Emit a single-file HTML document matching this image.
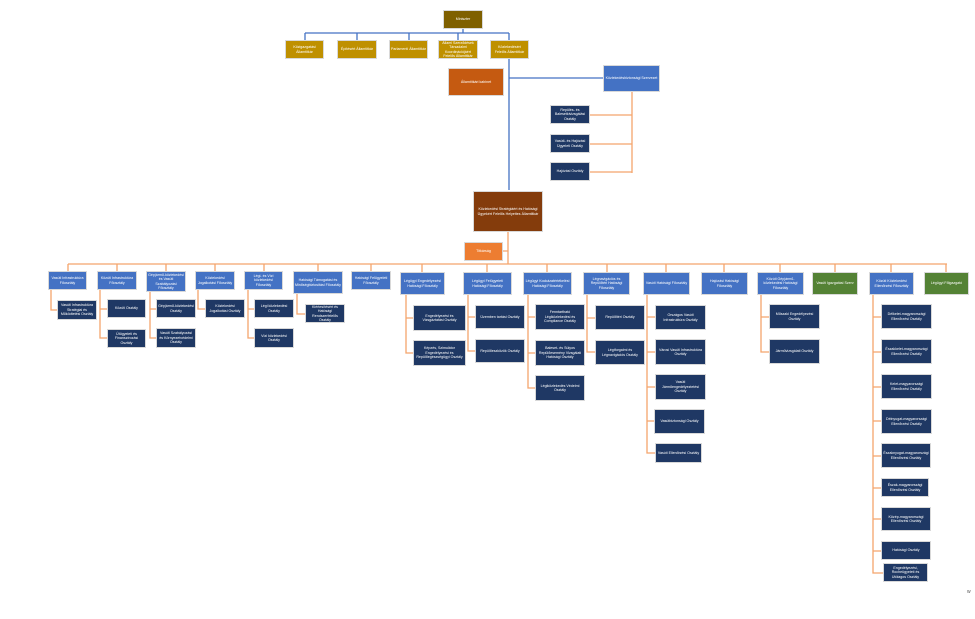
<!DOCTYPE html>
<html><head><meta charset="utf-8"><style>
body{margin:0;background:#fff;width:975px;height:619px;overflow:hidden;position:relative;font-family:"Liberation Sans",sans-serif}
.b{position:absolute;display:flex;align-items:center;justify-content:center;text-align:center;color:#fff;font-size:3.6px;line-height:4.4px;box-sizing:border-box;border:0.6px solid #d9d9d9;padding:0 1px;overflow:hidden}
.g{background:#bf9000}.d{background:#1f3864}.bl{background:#4472c4}.gr{background:#548235}
svg{position:absolute;left:0;top:0}
</style></head><body>
<svg width="975" height="619">
<g stroke="#4472c4" stroke-width="1.3" fill="none">
<path d="M463 29V33M305 33H509M305 33V40M357 33V40M409 33V40M458 33V40M509 33V190M509 78H603"/>
</g>
<g stroke="#f4a56c" stroke-width="1.3" fill="none">
<path d="M632 92V173M590 115H632M590 144H632M590 172H632"/>
<path d="M508 232V264M503 251H508M68 264H947"/>
<path d="M68 264V271M117 264V271M166 264V271M215 264V271M264 264V271M318 264V271M371 264V271M422 264V272M487 264V272M547 264V272M607 264V272M666 264V272M724 264V272M780 264V272M835 264V272M891 264V272M946 264V272"/>
<path d="M51 290V310H57M100 290V338H107M100 309H107M150 292V338H156M150 309H156M198 290V309H205M248 290V338H254M248 309H254M297 294V314H305"/>
<path d="M406 295V353H413M406 318H413M468 295V351H475M468 317H475M528 295V388H535M528 317H535M528 353H535M587 295V352H595M587 318H595M647 295V453H655M647 317H655M647 352H655M647 387H655M647 421H654M761 295V352H769M761 317H769M873 295V573H881M873 317H881M873 352H881M873 387H881M873 421H881M873 456H881M873 488H881M873 519H881M873 551H881M873 573H883"/>
</g>
</svg>
<div class="b" style="left:443px;top:10px;width:40px;height:19px;background:#7f6000">Miniszter</div>
<div class="b g" style="left:285px;top:40px;width:39px;height:19px">Közigazgatási Államtitkár</div>
<div class="b g" style="left:337px;top:40px;width:40px;height:19px">Építésért Államtitkár</div>
<div class="b g" style="left:389px;top:40px;width:39px;height:19px">Parlamenti Államtitkár</div>
<div class="b g" style="left:438px;top:40px;width:40px;height:19px">Állami Szerződések Társadalmi Koordinációjáért Felelős Államtitkár</div>
<div class="b g" style="left:490px;top:40px;width:39px;height:19px">Közlekedésért Felelős Államtitkár</div>
<div class="b" style="left:448px;top:68px;width:56px;height:28px;background:#c55a11">Államtitkári kabinet</div>
<div class="b bl" style="left:603px;top:65px;width:57px;height:27px">Közlekedésbiztonsági Szervezet</div>
<div class="b d" style="left:550px;top:105px;width:40px;height:19px">Repülés- és Balesetkivizsgálási Osztály</div>
<div class="b d" style="left:550px;top:134px;width:40px;height:19px">Vasúti- és Hajózási Ügyeleti Osztály</div>
<div class="b d" style="left:550px;top:162px;width:40px;height:19px">Hajózási Osztály</div>
<div class="b" style="left:473px;top:191px;width:70px;height:41px;background:#843c0c">Közlekedési Stratégiáért és Hatósági Ügyekért Felelős Helyettes Államtitkár</div>
<div class="b" style="left:464px;top:242px;width:39px;height:19px;background:#ed7d31">Titkárság</div>

<div class="b bl" style="left:48px;top:271px;width:39px;height:19px">Vasúti Infrastruktúra Főosztály</div>
<div class="b bl" style="left:97px;top:271px;width:40px;height:19px">Közúti Infrastruktúra Főosztály</div>
<div class="b bl" style="left:146px;top:271px;width:40px;height:21px">Gépjármű-közlekedési és Vasúti Szabályozási Főosztály</div>
<div class="b bl" style="left:195px;top:271px;width:40px;height:19px">Közlekedési Jogalkotási Főosztály</div>
<div class="b bl" style="left:244px;top:271px;width:39px;height:19px">Légi- és Vízi közlekedési Főosztály</div>
<div class="b bl" style="left:293px;top:271px;width:50px;height:23px">Hatósági Támogatási és Minőségbiztosítási Főosztály</div>
<div class="b bl" style="left:351px;top:271px;width:40px;height:19px">Hatósági Felügyeleti Főosztály</div>
<div class="b bl" style="left:400px;top:272px;width:45px;height:23px">Légügyi Engedélyezési Hatósági Főosztály</div>
<div class="b bl" style="left:463px;top:272px;width:49px;height:23px">Légügyi Felügyeleti Hatósági Főosztály</div>
<div class="b bl" style="left:523px;top:272px;width:49px;height:23px">Légügyi Kockázatértékelési Hatósági Főosztály</div>
<div class="b bl" style="left:583px;top:272px;width:47px;height:23px">Légnavigációs és Repülőtéri Hatósági Főosztály</div>
<div class="b bl" style="left:643px;top:272px;width:47px;height:23px">Vasúti Hatósági Főosztály</div>
<div class="b bl" style="left:701px;top:272px;width:47px;height:23px">Hajózási Hatósági Főosztály</div>
<div class="b bl" style="left:757px;top:272px;width:47px;height:23px">Közúti Gépjármű-közlekedési Hatósági Főosztály</div>
<div class="b gr" style="left:812px;top:272px;width:46px;height:23px">Vasúti Igazgatási Szerv</div>
<div class="b bl" style="left:869px;top:272px;width:45px;height:23px">Közúti Közlekedési Ellenőrzési Főosztály</div>
<div class="b gr" style="left:924px;top:272px;width:45px;height:23px">Légügyi Főigazgató</div>

<div class="b d" style="left:57px;top:300px;width:40px;height:20px">Vasúti Infrastruktúra Stratégiai és Működtetési Osztály</div>
<div class="b d" style="left:107px;top:299px;width:39px;height:19px">Közúti Osztály</div>
<div class="b d" style="left:107px;top:329px;width:39px;height:19px">Útügyeleti és Finanszírozási Osztály</div>
<div class="b d" style="left:156px;top:299px;width:40px;height:19px">Gépjármű-közlekedési Osztály</div>
<div class="b d" style="left:156px;top:328px;width:40px;height:20px">Vasúti Szabályozási és Környezetvédelmi Osztály</div>
<div class="b d" style="left:205px;top:299px;width:40px;height:19px">Közlekedési Jogalkotási Osztály</div>
<div class="b d" style="left:254px;top:299px;width:40px;height:19px">Légi közlekedési Osztály</div>
<div class="b d" style="left:254px;top:328px;width:40px;height:20px">Vízi közlekedési Osztály</div>
<div class="b d" style="left:305px;top:304px;width:40px;height:19px">Kiértesítésért és Hatósági Rendszerfelelős Osztály</div>

<div class="b d" style="left:413px;top:305px;width:53px;height:26px">Engedélyezési és Vizsgáztatási Osztály</div>
<div class="b d" style="left:413px;top:340px;width:53px;height:26px">Képzés, Szimulátor Engedélyezési és Repülőegészségügyi Osztály</div>
<div class="b d" style="left:475px;top:305px;width:50px;height:24px">Üzemben tartási Osztály</div>
<div class="b d" style="left:475px;top:339px;width:50px;height:24px">Repülőeszközök Osztály</div>
<div class="b d" style="left:535px;top:304px;width:50px;height:26px">Fenntartható Légiközlekedési és Compliance Osztály</div>
<div class="b d" style="left:535px;top:340px;width:50px;height:26px">Baleset- és Súlyos Repülőesemény Vizsgálati Hatósági Osztály</div>
<div class="b d" style="left:535px;top:375px;width:50px;height:26px">Légiközlekedés Védelmi Osztály</div>
<div class="b d" style="left:595px;top:305px;width:50px;height:25px">Repülőtéri Osztály</div>
<div class="b d" style="left:595px;top:340px;width:50px;height:25px">Légiforgalmi és Légnavigációs Osztály</div>
<div class="b d" style="left:655px;top:305px;width:51px;height:25px">Országos Vasúti Infrastruktúra Osztály</div>
<div class="b d" style="left:655px;top:339px;width:51px;height:26px">Városi Vasúti Infrastruktúra Osztály</div>
<div class="b d" style="left:655px;top:374px;width:51px;height:26px">Vasúti Járműengedélyeztetési Osztály</div>
<div class="b d" style="left:654px;top:409px;width:51px;height:25px">Vasútbiztonsági Osztály</div>
<div class="b d" style="left:655px;top:443px;width:47px;height:20px">Vasúti Ellenőrzési Osztály</div>
<div class="b d" style="left:769px;top:304px;width:51px;height:25px">Műszaki Engedélyezési Osztály</div>
<div class="b d" style="left:769px;top:339px;width:51px;height:25px">Járművizsgálati Osztály</div>
<div class="b d" style="left:881px;top:304px;width:51px;height:25px">Délkelet-magyarországi Ellenőrzési Osztály</div>
<div class="b d" style="left:881px;top:339px;width:51px;height:25px">Északkelet-magyarországi Ellenőrzési Osztály</div>
<div class="b d" style="left:881px;top:374px;width:51px;height:25px">Kelet-magyarországi Ellenőrzési Osztály</div>
<div class="b d" style="left:881px;top:409px;width:51px;height:25px">Délnyugat-magyarországi Ellenőrzési Osztály</div>
<div class="b d" style="left:881px;top:443px;width:50px;height:25px">Északnyugat-magyarországi Ellenőrzési Osztály</div>
<div class="b d" style="left:881px;top:478px;width:48px;height:19px">Észak-magyarországi Ellenőrzési Osztály</div>
<div class="b d" style="left:881px;top:507px;width:50px;height:24px">Közép-magyarországi Ellenőrzési Osztály</div>
<div class="b d" style="left:881px;top:541px;width:50px;height:19px">Hatósági Osztály</div>
<div class="b d" style="left:883px;top:563px;width:45px;height:19px">Engedélyezési, Rocheügyeleti és Utólagos Osztály</div>
<div style="position:absolute;left:967px;top:589px;font-size:5px;color:#555">w</div>
</body></html>
